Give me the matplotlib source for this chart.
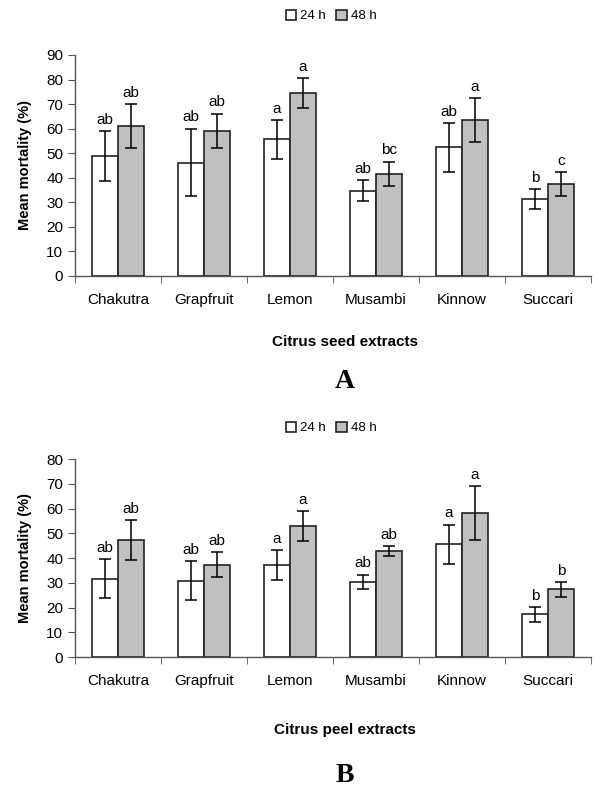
import numpy as np
import matplotlib.pyplot as plt

plt.rcParams['font.family'] = ['Liberation Sans', 'DejaVu Sans']

extracts = ['Chakutra', 'Grapfruit', 'Lemon', 'Musambi', 'Kinnow', 'Succari']

# panel A - seed extracts
seed_24 = [48.8, 46.2, 55.6, 34.8, 52.4, 31.3]
seed_24_err = [10.1, 13.8, 8.0, 4.1, 10.0, 4.1]
seed_48 = [61.0, 59.1, 74.6, 41.6, 63.6, 37.4]
seed_48_err = [9.0, 7.0, 6.0, 5.0, 9.0, 4.8]
seed_24_let = ['ab', 'ab', 'a', 'ab', 'ab', 'b']
seed_48_let = ['ab', 'ab', 'a', 'bc', 'a', 'c']

# panel B - peel extracts
peel_24 = [31.7, 30.9, 37.3, 30.3, 45.5, 17.3]
peel_24_err = [7.9, 8.0, 6.0, 3.0, 8.0, 3.0]
peel_48 = [47.3, 37.3, 52.8, 42.9, 58.1, 27.4]
peel_48_err = [8.0, 5.0, 6.0, 2.0, 11.0, 3.0]
peel_24_let = ['ab', 'ab', 'a', 'ab', 'a', 'b']
peel_48_let = ['ab', 'ab', 'a', 'ab', 'a', 'b']

fig = plt.figure(figsize=(6, 7.99), dpi=100)


def panel(rect, v24, e24, v48, e48, l24, l48, ymax, xlab, letter, legy, xlaby, lety):
    ax = fig.add_axes(rect)
    x = np.arange(len(extracts))
    w = 0.3
    ekw = dict(ecolor='black', elinewidth=1.1, capsize=4, capthick=1.1)
    ax.bar(x - w / 2, v24, w, yerr=e24, color='white', edgecolor='#222222',
           linewidth=1.2, error_kw=ekw, label='24 h')
    ax.bar(x + w / 2, v48, w, yerr=e48, color='#c0c0c0', edgecolor='#222222',
           linewidth=1.2, error_kw=ekw, label='48 h')
    for i in range(len(extracts)):
        ax.annotate(l24[i], (x[i] - w / 2, v24[i] + e24[i]), xytext=(0, 3),
                    textcoords='offset points', ha='center', va='bottom', fontsize=11)
        ax.annotate(l48[i], (x[i] + w / 2, v48[i] + e48[i]), xytext=(0, 3),
                    textcoords='offset points', ha='center', va='bottom', fontsize=11)
    ax.set_xlim(-0.5, len(extracts) - 0.5)
    ax.set_ylim(0, ymax)
    ax.set_yticks(range(0, ymax + 1, 10))
    ax.set_xticks(x)
    ax.set_xticklabels(extracts, fontsize=11)
    ax.set_xticks(np.arange(-0.5, len(extracts), 1), minor=True)
    ax.tick_params(axis='x', which='major', length=0, pad=12)
    ax.tick_params(axis='x', which='minor', length=5, direction='out', color='#555555')
    ax.tick_params(axis='y', length=5, direction='out', color='#555555', labelsize=11)
    for s in ['top', 'right']:
        ax.spines[s].set_visible(False)
    for s in ['left', 'bottom']:
        ax.spines[s].set_color('#555555')
        ax.spines[s].set_linewidth(1.0)
    ax.set_ylabel('Mean mortality (%)', fontsize=10.5, fontweight='bold', labelpad=10)
    fig.text(0.575, xlaby, xlab, ha='center', va='center',
             fontsize=11, fontweight='bold')
    fig.text(0.575, lety, letter, ha='center', va='center',
             fontsize=20, fontweight='bold', family='Liberation Serif')
    ax.legend(loc='center', bbox_to_anchor=(0.552, legy), bbox_transform=fig.transFigure,
              ncol=2, frameon=False, fontsize=9.5, handlelength=0.8, handleheight=0.8,
              handletextpad=0.3, columnspacing=0.8)
    return ax


panel([0.125, 0.6546, 0.86, 0.2766], seed_24, seed_24_err, seed_48, seed_48_err,
      seed_24_let, seed_48_let, 90, 'Citrus seed extracts', 'A',
      1 - 16 / 799, 1 - 342 / 799, 1 - 382 / 799)
panel([0.125, 0.1777, 0.86, 0.2478], peel_24, peel_24_err, peel_48, peel_48_err,
      peel_24_let, peel_48_let, 80, 'Citrus peel extracts', 'B',
      1 - 428 / 799, 1 - 730 / 799, 1 - 776 / 799)

fig.savefig('out.png', dpi=100)
